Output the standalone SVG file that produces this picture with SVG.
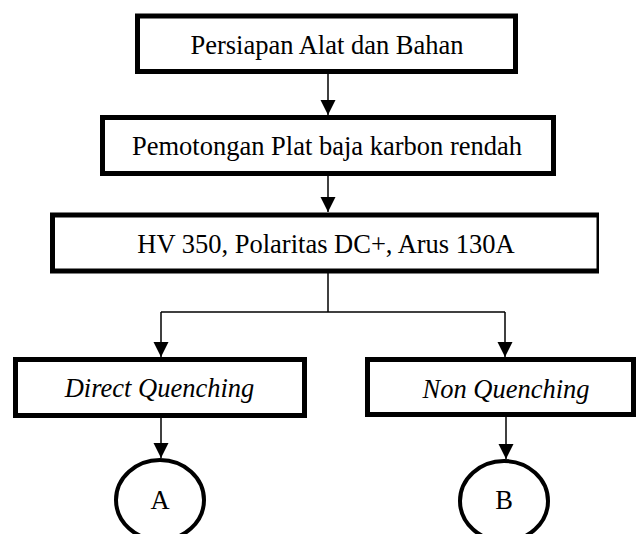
<svg xmlns="http://www.w3.org/2000/svg" width="636" height="534" viewBox="0 0 636 534">
<style>
.box{fill:#fff;stroke:#000;stroke-width:5}
.circ{fill:#fff;stroke:#000;stroke-width:4}
.t{font-family:"Liberation Serif","Times New Roman",serif;font-size:26.5px;fill:#000;text-anchor:middle}
.i{font-style:italic}
.c{fill:none;stroke:#000;stroke-width:1.5}
</style>
<defs>
<marker id="ah" markerUnits="userSpaceOnUse" markerWidth="16" markerHeight="16" refX="15" refY="7.5" orient="auto">
<path d="M0,0 L15,7.5 L0,15 Z" fill="#000"/>
</marker>
<clipPath id="cl3"><rect x="0" y="0" width="599" height="534"/></clipPath>
</defs>
<rect width="636" height="534" fill="#fff"/>
<g id="connectors">
<line class="c" x1="328" y1="74" x2="328" y2="115" marker-end="url(#ah)"/>
<line class="c" x1="328" y1="176" x2="328" y2="212" marker-end="url(#ah)"/>
<polyline class="c" points="328,273 328,312"/>
<polyline class="c" points="161,312 505,312"/>
<line class="c" x1="161" y1="312" x2="161" y2="357" marker-end="url(#ah)"/>
<line class="c" x1="505" y1="312" x2="505" y2="357" marker-end="url(#ah)"/>
<line class="c" x1="161" y1="418" x2="161" y2="458" marker-end="url(#ah)"/>
<line class="c" x1="506" y1="417" x2="506" y2="459" marker-end="url(#ah)"/>
</g>
<g id="n1">
<rect class="box" x="137.5" y="16" width="378" height="55.5"/>
<text class="t" x="327" y="54">Persiapan Alat dan Bahan</text>
</g>
<g id="n2">
<rect class="box" x="102.5" y="117.5" width="451" height="56"/>
<text class="t" x="327" y="155">Pemotongan Plat baja karbon rendah</text>
</g>
<g id="n3">
<rect class="box" x="52.5" y="215" width="546.5" height="56" clip-path="url(#cl3)"/>
<text class="t" x="326" y="253">HV 350, Polaritas DC+, Arus 130A</text>
</g>
<g id="n4">
<rect class="box" x="15.5" y="359.5" width="289" height="56"/>
<text class="t i" x="159.5" y="397">Direct Quenching</text>
</g>
<g id="n5">
<rect class="box" x="367.5" y="359.5" width="266" height="55"/>
<text class="t i" x="506" y="397.5">Non Quenching</text>
</g>
<g id="nA">
<ellipse class="circ" cx="160" cy="500" rx="44" ry="40"/>
<text class="t" x="160" y="509">A</text>
</g>
<g id="nB">
<ellipse class="circ" cx="504" cy="501" rx="44" ry="40"/>
<text class="t" x="504" y="509">B</text>
</g>
</svg>
